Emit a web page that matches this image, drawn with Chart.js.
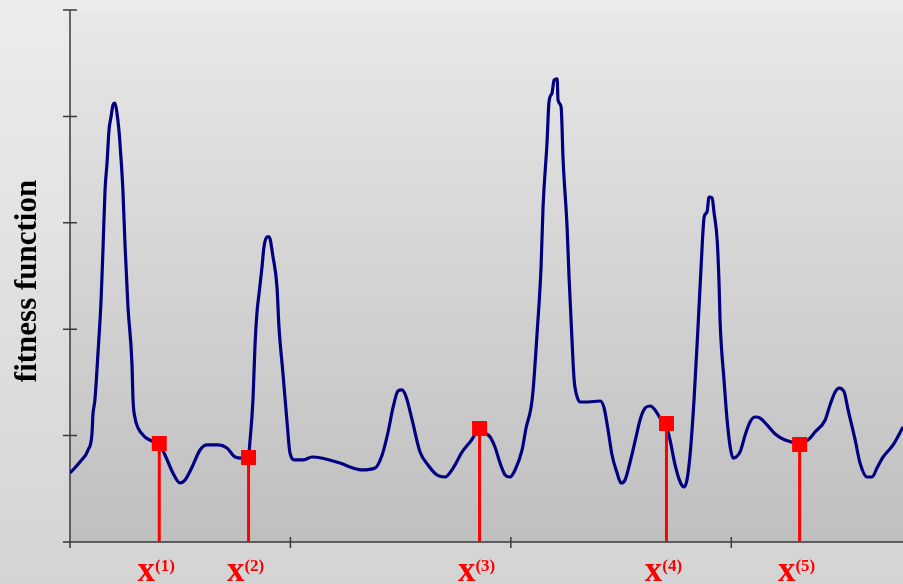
<!DOCTYPE html>
<html>
<head>
<meta charset="utf-8">
<script src="https://cdn.jsdelivr.net/npm/chart.js@4"></script>
<style>
  html, body { margin: 0; padding: 0; background: #e0e0e0; }
  canvas { display: block; }
</style>
</head>
<body>
<canvas id="chart" width="903" height="584"></canvas>
<script>
// fitness landscape (x in axis units, ticks every 1)
const curveX = [0, 0.045, 0.082, 0.100, 0.104, 0.113, 0.127, 0.141, 0.150, 0.159, 0.168, 0.177, 0.186, 0.195, 0.204, 0.213, 0.222, 0.231, 0.240, 0.250,
  0.263, 0.281, 0.286, 0.295, 0.309, 0.340, 0.372, 0.404, 0.431, 0.467, 0.499, 0.522, 0.554, 0.590, 0.622, 0.672, 0.712, 0.749, 0.780, 0.808,
  0.817, 0.830, 0.839, 0.848, 0.858, 0.871, 0.880, 0.894, 0.903, 0.921, 0.939, 0.948, 0.966, 0.985, 0.998, 1.021, 1.057, 1.098, 1.225, 1.270,
  1.325, 1.384, 1.416, 1.443, 1.466, 1.488, 1.506, 1.525, 1.552, 1.588, 1.624, 1.665, 1.701, 1.738, 1.779, 1.815, 1.856, 1.883, 1.906, 1.928,
  1.951, 1.974, 1.996, 2.019, 2.051, 2.069, 2.092, 2.101, 2.119, 2.137, 2.146, 2.164, 2.173, 2.187, 2.196, 2.210, 2.214, 2.228, 2.237, 2.255,
  2.264, 2.278, 2.287, 2.296, 2.314, 2.350, 2.405, 2.423, 2.441, 2.459, 2.482, 2.500, 2.518, 2.541, 2.568, 2.586, 2.609, 2.632, 2.654, 2.677,
  2.704, 2.722, 2.745, 2.768, 2.786, 2.799, 2.813, 2.831, 2.849, 2.863, 2.877, 2.890, 2.899, 2.913, 2.922, 2.936, 2.945, 2.949, 2.967, 2.981,
  2.995, 3.008, 3.022, 3.040, 3.063, 3.085, 3.108, 3.131, 3.162, 3.199, 3.244, 3.308, 3.348, 3.380, 3.426, 3.448, 3.471, 3.489, 3.512, 3.530,
  3.562, 3.584, 3.616, 3.639, 3.661, 3.689, 3.734, 3.779];
const curveY = [0.648, 0.752, 0.865, 1.024, 1.194, 1.335, 1.776, 2.274, 2.773, 3.308, 3.562, 3.872, 3.994, 4.107, 4.126, 4.032, 3.872, 3.618, 3.308, 2.773,
  2.209, 1.682, 1.335, 1.165, 1.071, 0.987, 0.949, 0.921, 0.818, 0.648, 0.555, 0.583, 0.705, 0.865, 0.912, 0.912, 0.883, 0.799, 0.789, 0.789,
  0.959, 1.335, 1.833, 2.152, 2.340, 2.585, 2.773, 2.867, 2.867, 2.679, 2.397, 2.021, 1.588, 1.118, 0.836, 0.771, 0.771, 0.799, 0.742, 0.705,
  0.677, 0.695, 0.818, 1.034, 1.269, 1.419, 1.429, 1.363, 1.147, 0.846, 0.724, 0.630, 0.611, 0.695, 0.846, 0.940, 1.043, 1.024, 0.987, 0.893,
  0.742, 0.630, 0.611, 0.677, 0.865, 1.071, 1.269, 1.429, 1.964, 2.585, 3.148, 3.750, 4.135, 4.220, 4.342, 4.352, 4.154, 4.088, 3.590, 2.961,
  2.491, 1.870, 1.523, 1.400, 1.316, 1.316, 1.325, 1.259, 1.053, 0.818, 0.648, 0.555, 0.583, 0.752, 0.987, 1.147, 1.259, 1.278, 1.241, 1.165,
  1.100, 0.959, 0.724, 0.564, 0.517, 0.583, 0.818, 1.335, 2.021, 2.585, 3.055, 3.102, 3.242, 3.233, 3.092, 2.838, 2.397, 2.086, 1.523, 1.147,
  0.893, 0.789, 0.799, 0.846, 1.006, 1.128, 1.175, 1.165, 1.100, 1.015, 0.959, 0.930, 0.959, 1.034, 1.147, 1.288, 1.410, 1.447, 1.410, 1.241,
  0.959, 0.742, 0.611, 0.611, 0.695, 0.799, 0.912, 1.081];

// sampled individuals x(1)..x(5)
const sampleX = [0.405, 0.810, 1.858, 2.706, 3.310];
const sampleY = [0.926, 0.794, 1.067, 1.114, 0.916];
const sampleLabels = ['(1)', '(2)', '(3)', '(4)', '(5)'];

const xTicks = [0, 1, 2, 3];
const yTicks = [0, 1, 2, 3, 4, 5];
const yTitle = 'fitness function';

const curveData = curveX.map((x, i) => ({ x: x, y: curveY[i] }));
const markerData = sampleX.map((x, i) => ({ x: x, y: sampleY[i] }));
const stemData = [];
sampleX.forEach((x, i) => {
  stemData.push({ x: x, y: 0 }, { x: x, y: sampleY[i] }, { x: x, y: null });
});

const backdrop = {
  id: 'backdrop',
  beforeDraw(chart) {
    const ctx = chart.ctx;
    const area = chart.chartArea;
    let g = ctx.createLinearGradient(0, 0, 0, chart.height);
    g.addColorStop(0, '#ececec');
    g.addColorStop(1, '#d4d4d4');
    ctx.save();
    ctx.fillStyle = g;
    ctx.fillRect(0, 0, chart.width, chart.height);
    g = ctx.createLinearGradient(0, area.top, 0, area.bottom);
    g.addColorStop(0, '#e8e8e8');
    g.addColorStop(1, '#bfbfbf');
    ctx.fillStyle = g;
    ctx.fillRect(area.left, area.top, area.right - area.left, area.bottom - area.top);
    ctx.restore();
  }
};

// axes with ticks that cross the axis line
const crossAxes = {
  id: 'crossAxes',
  beforeDatasetsDraw(chart) {
    const ctx = chart.ctx;
    const xs = chart.scales.x, ys = chart.scales.y;
    const x0 = xs.getPixelForValue(0), y0 = ys.getPixelForValue(0);
    ctx.save();
    ctx.strokeStyle = '#3a3a3a';
    ctx.lineWidth = 1.5;
    ctx.beginPath();
    ctx.moveTo(x0, ys.getPixelForValue(5));
    ctx.lineTo(x0, y0 + 6);
    ctx.moveTo(x0 - 7, y0);
    ctx.lineTo(chart.width, y0);
    yTicks.forEach(v => {
      const p = ys.getPixelForValue(v);
      ctx.moveTo(x0 - 7, p);
      ctx.lineTo(x0 + 7, p);
    });
    xTicks.forEach(v => {
      const p = xs.getPixelForValue(v);
      ctx.moveTo(p, y0 - 5);
      ctx.lineTo(p, y0 + 6);
    });
    ctx.stroke();
    ctx.restore();
  },
  afterDraw(chart) {
    const ctx = chart.ctx;
    const xs = chart.scales.x;
    const big = 'bold 35px "Liberation Serif", "Times New Roman", serif';
    const small = 'bold 17px "Liberation Serif", "Times New Roman", serif';
    ctx.save();
    ctx.fillStyle = '#ff0000';
    ctx.textBaseline = 'alphabetic';
    ctx.textAlign = 'left';
    sampleX.forEach((v, i) => {
      const p = xs.getPixelForValue(v);
      ctx.font = big;
      const wx = ctx.measureText('x').width;
      ctx.font = small;
      const ws = ctx.measureText(sampleLabels[i]).width;
      const left = p - (wx + ws) / 2 - 3;
      ctx.font = big;
      ctx.fillText('x', left, 581);
      ctx.font = small;
      ctx.fillText(sampleLabels[i], left + wx, 571);
    });
    // y axis title
    ctx.fillStyle = '#000000';
    ctx.font = 'bold 31px "Liberation Serif", "Times New Roman", serif';
    ctx.textAlign = 'center';
    ctx.translate(36, 281);
    ctx.rotate(-Math.PI / 2);
    ctx.fillText(yTitle, 0, 0);
    ctx.restore();
  }
};

new Chart(document.getElementById('chart'), {
  type: 'line',
  data: {
    datasets: [
      {
        type: 'scatter',
        data: markerData,
        pointStyle: 'rect',
        pointRadius: 10.6,
        pointBackgroundColor: '#ff0000',
        pointBorderWidth: 0,
        showLine: false,
        order: 0,
        clip: false
      },
      {
        data: stemData,
        borderColor: '#ff0000',
        borderWidth: 3,
        pointRadius: 0,
        spanGaps: false,
        tension: 0,
        order: 1
      },
      {
        data: curveData,
        borderColor: '#000080',
        borderWidth: 3.2,
        pointRadius: 0,
        cubicInterpolationMode: 'monotone',
        order: 2
      }
    ]
  },
  options: {
    responsive: false,
    animation: false,
    devicePixelRatio: 1,
    layout: { autoPadding: false, padding: { left: 70, top: 10, right: 0, bottom: 42 } },
    plugins: { legend: { display: false }, tooltip: { enabled: false } },
    scales: {
      x: { type: 'linear', min: 0, max: 3.779, display: false },
      y: { type: 'linear', min: 0, max: 5, display: false }
    }
  },
  plugins: [backdrop, crossAxes]
});
</script>
</body>
</html>
